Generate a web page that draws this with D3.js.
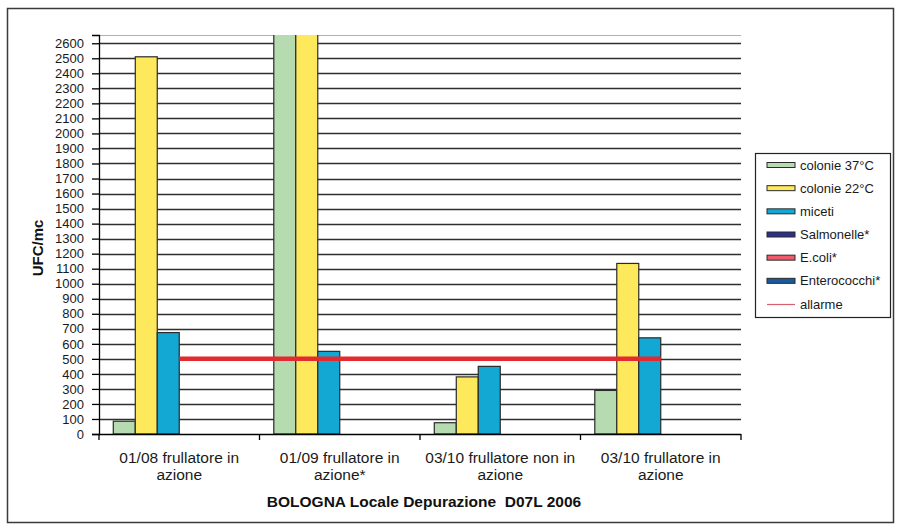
<!DOCTYPE html>
<html>
<head>
<meta charset="utf-8">
<script src="https://cdn.jsdelivr.net/npm/d3@7"></script>
<style>
  html, body { margin: 0; padding: 0; background: #fff; }
  svg { display: block; font-family: "Liberation Sans", Arial, sans-serif; }
</style>
</head>
<body>
<svg id="chart" width="899" height="531"></svg>
<script>
// Sampling sites / conditions (two-line labels)
const categories = [
  "01/08 frullatore in\nazione",
  "01/09 frullatore in\nazione*",
  "03/10 frullatore non in\nazione",
  "03/10 frullatore in\nazione"
];

// Bacterial / fungal counts, UFC/mc
const seriesNames = ["colonie 37°C", "colonie 22°C", "miceti", "Salmonelle*", "E.coli*", "Enterococchi*"];
const colonie37 = [85, 3000, 75, 290];
const colonie22 = [2510, 3200, 380, 1135];
const miceti = [675, 550, 450, 640];
const salmonelle = [0, 0, 0, 0];
const ecoli = [0, 0, 0, 0];
const enterococchi = [0, 0, 0, 0];
const allarme = [500, 500, 500, 500];

const yTicks = d3.range(0, 2700, 100);
const yMax = 2655;

const seriesValues = [colonie37, colonie22, miceti, salmonelle, ecoli, enterococchi];
const seriesColors = ["#b6dbb0", "#fee85b", "#13a7d3", "#2e2e8c", "#ef5b6b", "#175a9e"];
const alarmColor = "#e32b2f";

const svg = d3.select("#chart");
const plot = { left: 99, right: 741, top: 35, bottom: 434 };

// outer frame
svg.append("rect")
  .attr("x", 7.5).attr("y", 8.5)
  .attr("width", 886).attr("height", 514)
  .attr("fill", "#fff").attr("stroke", "#3a3a3a").attr("stroke-width", 1.5);

const x0 = d3.scaleBand().domain(categories).range([plot.left, plot.right]).padding(0);
const x1 = d3.scaleBand().domain(seriesNames).range([0, x0.bandwidth()])
  .paddingInner(0).paddingOuter(0.65);
const y = d3.scaleLinear().domain([0, yMax]).range([plot.bottom, plot.top]);

// plot area top edge
svg.append("line")
  .attr("x1", plot.left).attr("x2", plot.right)
  .attr("y1", plot.top + 0.5).attr("y2", plot.top + 0.5)
  .attr("stroke", "#b0b0b0").attr("stroke-width", 1);

// horizontal gridlines
svg.append("g")
  .selectAll("line")
  .data(yTicks.filter(d => d > 0))
  .join("line")
  .attr("x1", plot.left).attr("x2", plot.right)
  .attr("y1", d => Math.round(y(d)) + 0.5).attr("y2", d => Math.round(y(d)) + 0.5)
  .attr("stroke", "#2e2e2e").attr("stroke-width", 1.3);

// bars, clipped to the plot area
svg.append("clipPath").attr("id", "plotClip")
  .append("rect")
  .attr("x", plot.left).attr("y", plot.top)
  .attr("width", plot.right - plot.left).attr("height", plot.bottom - plot.top);

const barData = [];
seriesNames.forEach((s, si) => {
  categories.forEach((c, ci) => {
    barData.push({ s, c, v: seriesValues[si][ci], color: seriesColors[si] });
  });
});

svg.append("g")
  .attr("clip-path", "url(#plotClip)")
  .selectAll("rect")
  .data(barData.filter(d => d.v > 0))
  .join("rect")
  .attr("x", d => x0(d.c) + x1(d.s))
  .attr("width", x1.bandwidth())
  .attr("y", d => y(Math.min(d.v, yMax + 5)))
  .attr("height", d => y(0) - y(Math.min(d.v, yMax + 5)))
  .attr("fill", d => d.color)
  .attr("stroke", "#2b2b2b").attr("stroke-width", 1.2);

// alarm threshold line across category centres
const alarmLine = d3.line()
  .x((d, i) => x0(categories[i]) + x0.bandwidth() / 2)
  .y(d => y(d));
svg.append("path")
  .datum(allarme)
  .attr("d", alarmLine)
  .attr("fill", "none")
  .attr("stroke", alarmColor).attr("stroke-width", 4.5);

// y axis
const yAxis = d3.axisLeft(y).tickValues(yTicks).tickSize(7).tickPadding(8).tickFormat(d3.format("d"));
const gy = svg.append("g").attr("transform", `translate(${plot.left},0)`).call(yAxis);
gy.select(".domain").attr("stroke", "#000").attr("stroke-width", 1.3);
gy.selectAll(".tick line").attr("stroke", "#000").attr("stroke-width", 1.3);
gy.selectAll(".tick text")
  .attr("font-size", 13).attr("fill", "#1a1a1a")
  .attr("font-family", "Liberation Sans, Arial, sans-serif");

// x axis (category separators)
svg.append("line")
  .attr("x1", plot.left).attr("x2", plot.right)
  .attr("y1", plot.bottom + 0.5).attr("y2", plot.bottom + 0.5)
  .attr("stroke", "#000").attr("stroke-width", 1.3);
const edges = categories.map(c => x0(c)).concat([plot.right]);
svg.append("g").selectAll("line")
  .data(edges)
  .join("line")
  .attr("x1", d => d).attr("x2", d => d)
  .attr("y1", plot.bottom).attr("y2", plot.bottom + 6)
  .attr("stroke", "#000").attr("stroke-width", 1.3);

// category labels
const xl = svg.append("g");
categories.forEach(c => {
  const lines = c.split("\n");
  const t = xl.append("text")
    .attr("x", x0(c) + x0.bandwidth() / 2)
    .attr("y", 463)
    .attr("text-anchor", "middle")
    .attr("font-size", 15.5).attr("fill", "#1a1a1a");
  lines.forEach((ln, i) => {
    t.append("tspan")
      .attr("x", x0(c) + x0.bandwidth() / 2)
      .attr("dy", i === 0 ? 0 : 17)
      .text(ln);
  });
});

// axis titles
svg.append("text")
  .attr("x", (plot.left + plot.right) / 2 + 4)
  .attr("y", 507)
  .attr("text-anchor", "middle")
  .attr("font-size", 15.5).attr("font-weight", "bold").attr("fill", "#111")
  .style("white-space", "pre")
  .text("BOLOGNA Locale Depurazione  D07L 2006");

svg.append("text")
  .attr("transform", "translate(43,248) rotate(-90)")
  .attr("text-anchor", "middle")
  .attr("font-size", 15).attr("font-weight", "bold").attr("fill", "#111")
  .text("UFC/mc");

// legend
const legend = svg.append("g");
legend.append("rect")
  .attr("x", 755.5).attr("y", 153.5)
  .attr("width", 135).attr("height", 164)
  .attr("fill", "#fff").attr("stroke", "#222").attr("stroke-width", 1.2);

const legendItems = seriesNames.map((s, i) => ({ name: s, color: seriesColors[i], type: "bar" }))
  .concat([{ name: "allarme", color: "#d8606f", type: "line" }]);
const rowY = d3.scaleLinear().domain([0, legendItems.length - 1]).range([165, 304]);

legendItems.forEach((d, i) => {
  const cy = rowY(i);
  if (d.type === "bar") {
    legend.append("rect")
      .attr("x", 767).attr("y", cy - 2.5)
      .attr("width", 28).attr("height", 5)
      .attr("fill", d.color).attr("stroke", "#2b2b2b").attr("stroke-width", 1);
  } else {
    legend.append("line")
      .attr("x1", 767).attr("x2", 795)
      .attr("y1", cy + 0.5).attr("y2", cy + 0.5)
      .attr("stroke", d.color).attr("stroke-width", 1.2);
  }
  legend.append("text")
    .attr("x", 800).attr("y", cy + 4.5)
    .attr("font-size", 13).attr("fill", "#1a1a1a")
    .text(d.name);
});
</script>
</body>
</html>
